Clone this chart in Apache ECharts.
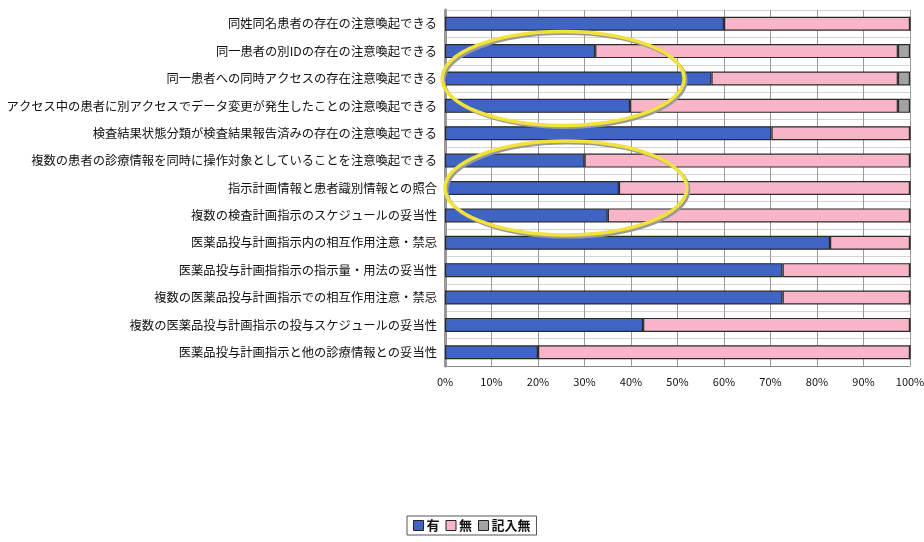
<!DOCTYPE html>
<html>
<head>
<meta charset="utf-8">
<script src="https://cdn.jsdelivr.net/npm/echarts@6/dist/echarts.min.js"></script>
<style>
  html, body { margin: 0; padding: 0; background: #fff; }
  #chart { width: 924px; height: 542px; }
</style>
</head>
<body>
<div id="chart"></div>
<script>
// 項目（上から順）
const categories = [
  '同姓同名患者の存在の注意喚起できる',
  '同一患者の別IDの存在の注意喚起できる',
  '同一患者への同時アクセスの存在注意喚起できる',
  'アクセス中の患者に別アクセスでデータ変更が発生したことの注意喚起できる',
  '検査結果状態分類が検査結果報告済みの存在の注意喚起できる',
  '複数の患者の診療情報を同時に操作対象としていることを注意喚起できる',
  '指示計画情報と患者識別情報との照合',
  '複数の検査計画指示のスケジュールの妥当性',
  '医薬品投与計画指示内の相互作用注意・禁忌',
  '医薬品投与計画指指示の指示量・用法の妥当性',
  '複数の医薬品投与計画指示での相互作用注意・禁忌',
  '複数の医薬品投与計画指示の投与スケジュールの妥当性',
  '医薬品投与計画指示と他の診療情報との妥当性'
]
// 割合(%)
const yesVals = [60, 32.3, 57.3, 39.8, 70.2, 30, 37.4, 35, 82.8, 72.6, 72.6, 42.6, 20]
const noVals = [40, 65.1, 40.1, 57.6, 29.8, 70, 62.6, 65, 17.2, 27.4, 27.4, 57.4, 80]
const blankVals = [0, 2.6, 2.6, 2.6, 0, 0, 0, 0, 0, 0, 0, 0, 0]
const xTicks = [0, 10, 20, 30, 40, 50, 60, 70, 80, 90, 100]
// 黄色の丸で囲まれた項目（中心の行と横方向の中心%）
const circledRows = [2, 6]
const circleCenterPct = [25.4, 26]

const chart = echarts.init(document.getElementById('chart'))

const barStyle = color => ({
  color: color,
  borderColor: '#2a2a2a',
  borderWidth: 1.2
})

chart.setOption({
  animation: false,
  textStyle: { fontFamily: '"Noto Sans CJK JP", sans-serif' },
  grid: { left: 445, right: 14, top: 10, height: 356, outerBoundsMode: 'none' },
  legend: {
    data: ['有', '無', '記入無'],
    left: 407,
    top: 516,
    orient: 'horizontal',
    padding: [3, 6],
    itemGap: 6,
    itemWidth: 10,
    itemHeight: 10,
    borderColor: '#555',
    borderWidth: 1,
    icon: 'rect',
    itemStyle: { borderColor: '#222', borderWidth: 1 },
    textStyle: { fontSize: 13, fontWeight: 'bold', color: '#111', padding: [0, 0, 0, -2] }
  },
  xAxis: {
    type: 'value',
    min: 0,
    max: 100,
    interval: 10,
    axisLine: { show: true, lineStyle: { color: '#888' } },
    axisTick: { show: false },
    axisLabel: {
      fontSize: 11,
      color: '#111',
      margin: 10,
      formatter: v => (xTicks.includes(v) ? v + '%' : '')
    },
    splitLine: { show: true, lineStyle: { color: '#9a9a9a' } }
  },
  yAxis: {
    type: 'category',
    inverse: true,
    data: categories,
    axisLine: { show: true, lineStyle: { color: '#999', width: 3 } },
    axisTick: { show: false },
    axisLabel: { fontSize: 12.3, color: '#111', margin: 8 },
    splitLine: { show: true, lineStyle: { color: '#d4d4d4' } }
  },
  series: [
    { name: '有', type: 'bar', stack: 'total', barWidth: 14, data: yesVals, itemStyle: barStyle('#3f64c4') },
    { name: '無', type: 'bar', stack: 'total', barWidth: 14, data: noVals, itemStyle: barStyle('#f8b5c8') },
    { name: '記入無', type: 'bar', stack: 'total', barWidth: 14, data: blankVals, itemStyle: barStyle('#a3a3a3') }
  ]
})

// 黄色の楕円（注目箇所）
const ellipses = []
circledRows.forEach((row, i) => {
  const c = chart.convertToPixel({ gridIndex: 0 }, [circleCenterPct[i], row])
  const rx = 121
  const ry = 47
  ellipses.push({
    type: 'ellipse',
    shape: { cx: c[0] + 2, cy: c[1] + 2, rx: rx, ry: ry },
    style: { fill: null, stroke: '#9a9a9a', lineWidth: 3 },
    z: 100
  })
  ellipses.push({
    type: 'ellipse',
    shape: { cx: c[0], cy: c[1], rx: rx, ry: ry },
    style: { fill: null, stroke: '#f2e23c', lineWidth: 3.5 },
    z: 101
  })
})
chart.setOption({ graphic: ellipses })
</script>
</body>
</html>
